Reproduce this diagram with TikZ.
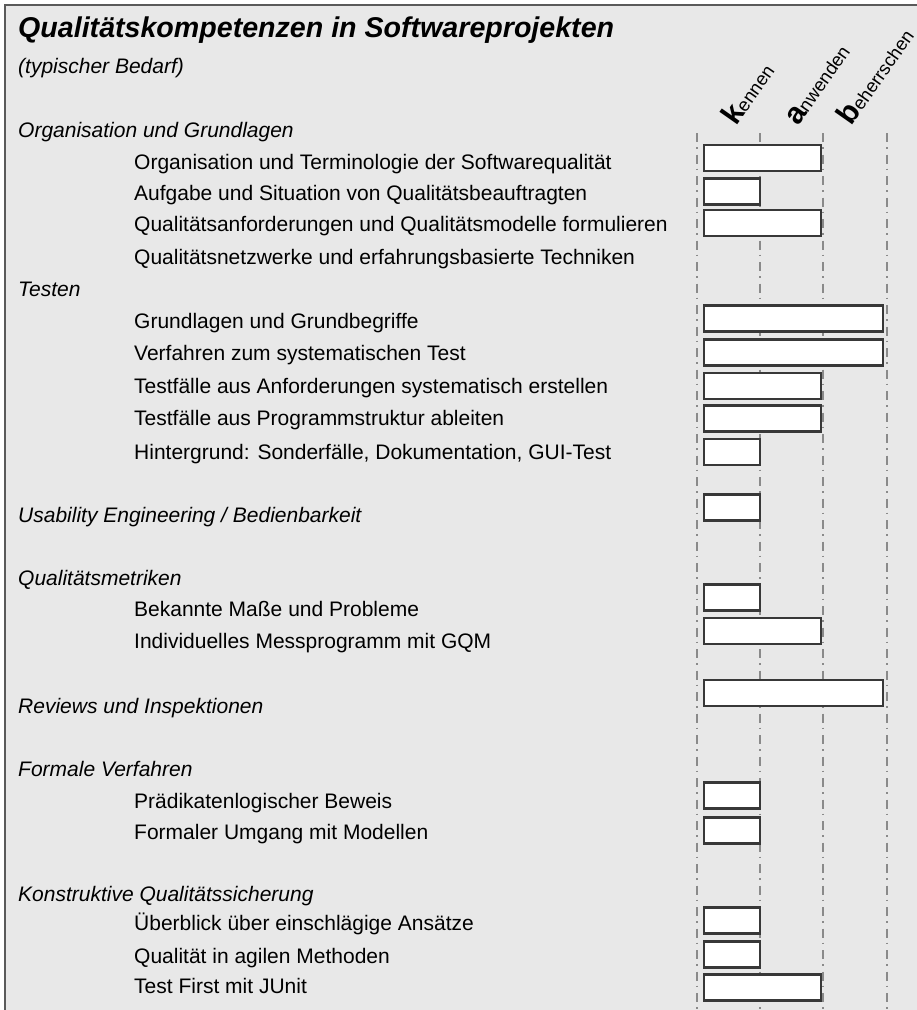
\documentclass[tikz,border=0pt]{standalone}
\usepackage{fontspec}
\setmainfont{Liberation Sans}
\usepackage{xcolor}
\usepackage{tikz}

\definecolor{panelgray}{HTML}{E8E8E8}
\definecolor{framegray}{HTML}{5A5A5A}
\definecolor{bargray}{HTML}{383838}
\definecolor{linegray}{HTML}{8A8A8A}

\begin{document}
\begin{tikzpicture}[x=1pt, y=-1pt,
    title/.style={anchor=base west, inner sep=0pt, font=\fontsize{28.6}{32}\selectfont\bfseries\itshape},
    section/.style={anchor=base west, inner sep=0pt, font=\fontsize{21}{25}\selectfont\itshape},
    item/.style={anchor=base west, inner sep=0pt, font=\fontsize{21}{25}\selectfont},
    level/.style={anchor=base west, inner sep=0pt, rotate=55, font=\fontsize{18.5}{21}\selectfont},
    colline/.style={linegray, line width=1.8pt, dash pattern=on 9pt off 5pt on 1.5pt off 6pt},
    bar/.style={draw=bargray, fill=white, line width=2.8pt}]
    \useasboundingbox (0,0) rectangle (917,1010);

    % Draw the grey panel with its frame
    \fill[white] (0,0) rectangle (917,1010);
    \draw[framegray, fill=panelgray, line width=2pt] (5,1030) -- (5,5) -- (940,5);
    \fill[panelgray] (6,6) rectangle (940,1030);

    % Title and subtitle
    \node[title] (title) at (18,37) {Qualitätskompetenzen in Softwareprojekten};
    \node[section] (subtitle) at (18,73) {(typischer Bedarf)};

    % Column headers
    \node[level] (kennen) at (736,127) {{\fontsize{30}{33}\selectfont\bfseries k}ennen};
    \node[level] (anwenden) at (798,127) {{\fontsize{30}{33}\selectfont\bfseries a}nwenden};
    \node[level] (beherrschen) at (851,127) {{\fontsize{30}{33}\selectfont\bfseries b}eherrschen};

    % Dash-dotted column lines
    \foreach \x in {697,760,823,887}
        \draw[colline] (\x,133) -- (\x,1012);

    % Organisation und Grundlagen
    \node[section] (org) at (18,137) {Organisation und Grundlagen};
    \node[item] (org1) at (134,169) {Organisation und Terminologie der Softwarequalität};
    \node[item] (org2) at (134,200) {Aufgabe und Situation von Qualitätsbeauftragten};
    \node[item] (org3) at (134,231) {Qualitätsanforderungen und Qualitätsmodelle formulieren};
    \node[item] (org4) at (134,264) {Qualitätsnetzwerke und erfahrungsbasierte Techniken};

    % Testen
    \node[section] (test) at (18,296) {Testen};
    \node[item] (test1) at (134,328) {Grundlagen und Grundbegriffe};
    \node[item] (test2) at (134,360) {Verfahren zum systematischen Test};
    \node[item] (test3) at (134,393) {Testfälle aus Anforderungen systematisch erstellen};
    \node[item] (test4) at (134,425) {Testfälle aus Programmstruktur ableiten};
    \node[item] (test5) at (134,459) {Hintergrund: Sonderfälle, Dokumentation, GUI-Test};

    % Usability
    \node[section] (usab) at (18,522) {Usability Engineering / Bedienbarkeit};

    % Qualitaetsmetriken
    \node[section] (metr) at (18,585) {Qualitätsmetriken};
    \node[item] (metr1) at (134,616) {Bekannte Maße und Probleme};
    \node[item] (metr2) at (134,648) {Individuelles Messprogramm mit GQM};

    % Reviews
    \node[section] (rev) at (18,713) {Reviews und Inspektionen};

    % Formale Verfahren
    \node[section] (form) at (18,776) {Formale Verfahren};
    \node[item] (form1) at (134,808) {Prädikatenlogischer Beweis};
    \node[item] (form2) at (134,839) {Formaler Umgang mit Modellen};

    % Konstruktive Qualitaetssicherung
    \node[section] (konst) at (18,901) {Konstruktive Qualitätssicherung};
    \node[item] (konst1) at (134,930) {Überblick über einschlägige Ansätze};
    \node[item] (konst2) at (134,963) {Qualität in agilen Methoden};
    \node[item] (konst3) at (134,993) {Test First mit JUnit};

    % Bars: centre y / right end
    \foreach \y/\r in {158/821, 191.5/760, 223/821, 318.5/883, 352.5/883, 386/821,
                       418.5/821, 452/760, 507.5/760, 597.5/760, 631/821, 693/883,
                       795.5/760, 830.5/760, 920.5/760, 954.5/760, 987.5/821}
        \draw[bar] (704,\y-13) rectangle (\r,\y+13);
\end{tikzpicture}
\end{document}
